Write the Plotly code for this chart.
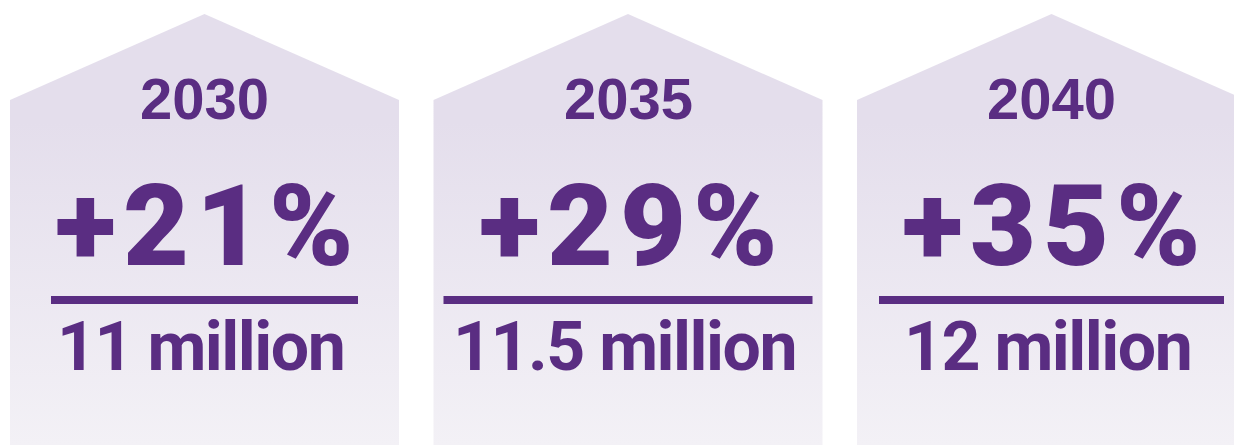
import plotly.graph_objects as go

# Projection figures per milestone year
years = ["2030", "2035", "2040"]
growth_pct = [21, 29, 35]
population_millions = [11, 11.5, 12]

# Styling
PURPLE = "#5A2D82"
TOP_FILL = "#E4DEEC"
BOTTOM_FILL = "#F3F1F6"
W, H = 1234, 445

house_left0 = 10
house_step = 423.5
house_width = 389
apex_y = 14
shoulder_y = 100
divider_half = [153.5, 184.5, 172.5]
pct_spacing = 7
mil_spacing = -1.5


def spaced(text, px):
    return f'<span style="letter-spacing:{px}px">{text}</span>'


fig = go.Figure()

for i, (yr, pct, mil) in enumerate(zip(years, growth_pct, population_millions)):
    left = house_left0 + i * house_step
    right = left + house_width
    cx = (left + right) / 2
    # house outline with a soft top-to-bottom lavender fade
    fig.add_trace(go.Scatter(
        x=[left, cx, right, right, left, left],
        y=[shoulder_y, apex_y, shoulder_y, H + 5, H + 5, shoulder_y],
        mode="lines", line=dict(width=0), fill="toself",
        fillgradient=dict(type="vertical", start=apex_y, stop=H,
                          colorscale=[[0, TOP_FILL], [0.25, TOP_FILL], [1, BOTTOM_FILL]]),
        hoverinfo="skip", showlegend=False,
    ))
    fig.add_annotation(x=cx, y=98, text=yr, showarrow=False,
                       font=dict(family="Liberation Sans", size=58, color=PURPLE, weight="bold"),
                       xanchor="center", yanchor="middle")
    fig.add_annotation(x=cx, y=226, text=spaced(f"+{pct}%", pct_spacing), showarrow=False,
                       xshift=pct_spacing / 2,
                       font=dict(family="Roboto", size=114, color=PURPLE, weight=900),
                       xanchor="center", yanchor="middle")
    fig.add_shape(type="line", x0=cx - divider_half[i], x1=cx + divider_half[i], y0=300, y1=300,
                  line=dict(color=PURPLE, width=8))
    fig.add_annotation(x=cx, y=347, text=spaced(f"{mil:g} million", mil_spacing), showarrow=False,
                       xshift=-4,
                       font=dict(family="Roboto", size=68, color=PURPLE, weight="bold"),
                       xanchor="center", yanchor="middle")

fig.update_layout(
    width=W, height=H,
    margin=dict(l=0, r=0, t=0, b=0),
    paper_bgcolor="white", plot_bgcolor="white",
    xaxis=dict(range=[0, W], visible=False, fixedrange=True),
    yaxis=dict(range=[H, 0], visible=False, fixedrange=True),
)

fig.write_html("out.html")
